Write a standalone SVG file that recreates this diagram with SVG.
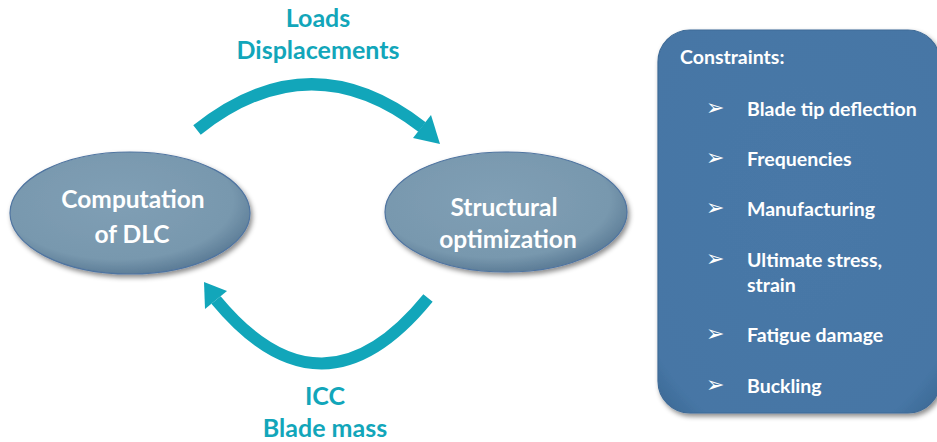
<svg xmlns="http://www.w3.org/2000/svg" width="937" height="442" viewBox="0 0 937 442">
<defs>
<radialGradient id="eg" cx="0.45" cy="0.4" r="0.6">
<stop offset="0" stop-color="#809FB5"/>
<stop offset="0.8" stop-color="#7898AE"/>
<stop offset="1" stop-color="#5E7E98"/>
</radialGradient>
<radialGradient id="bg" cx="0.5" cy="0.45" r="0.75">
<stop offset="0" stop-color="#4878A7"/>
<stop offset="0.85" stop-color="#4676A5"/>
<stop offset="1" stop-color="#3A6590"/>
</radialGradient>
<filter id="sh" x="-10%" y="-10%" width="125%" height="130%">
<feDropShadow dx="2" dy="3" stdDeviation="2.5" flood-color="#000" flood-opacity="0.45"/>
</filter>
</defs>
<style>
.node{fill:url(#eg);stroke:#4F74A0;stroke-width:1.2;filter:url(#sh)}
.nt{font-family:Lato,"Open Sans",sans-serif;font-weight:bold;font-size:24.5px;fill:#fff;text-anchor:middle}
.lbl{font-family:Lato,"Open Sans",sans-serif;font-weight:bold;font-size:25px;fill:#12A6BA;text-anchor:middle}
.arc{fill:none;stroke:#12A6BA;stroke-width:12}
.head{fill:#12A6BA}
.ct{font-family:Lato,"Open Sans",sans-serif;font-weight:bold;font-size:19.5px;fill:#fff}
.bul{font-family:"DejaVu Sans",sans-serif;font-size:22px;fill:#fff}
</style>
<rect width="937" height="442" fill="#fff"/>
<g id="connectors">
<path class="arc" d="M197,130 Q310,40 422,127"/>
<polygon class="head" points="440,144 413,138 431,115"/>
<path class="arc" d="M428,298 Q322,428 216,300"/>
<polygon class="head" points="204,282 227,291 205,309"/>
</g>
<g id="label-top">
<text class="lbl" x="318" y="27">Loads</text>
<text class="lbl" x="318" y="59">Displacements</text>
</g>
<g id="label-bottom">
<text class="lbl" x="325" y="405">ICC</text>
<text class="lbl" x="325" y="437">Blade mass</text>
</g>
<g id="node-dlc">
<ellipse class="node" cx="130" cy="213" rx="120" ry="61"/>
<text class="nt" x="133" y="208">Computation</text>
<text class="nt" x="132" y="243">of DLC</text>
</g>
<g id="node-opt">
<ellipse class="node" cx="506" cy="212" rx="121" ry="60"/>
<text class="nt" x="504" y="216">Structural</text>
<text class="nt" x="508" y="248">optimization</text>
</g>
<g id="node-constraints">
<rect x="658" y="30" width="282" height="383" rx="32" fill="url(#bg)" stroke="#3F6B97" stroke-width="1.2" filter="url(#sh)"/>
<text class="ct" x="680" y="64">Constraints:</text>
<text class="bul" x="706" y="115">➢</text><text class="ct" x="747" y="116">Blade tip deflection</text>
<text class="bul" x="706" y="165">➢</text><text class="ct" x="747" y="166">Frequencies</text>
<text class="bul" x="706" y="215">➢</text><text class="ct" x="747" y="216">Manufacturing</text>
<text class="bul" x="706" y="266">➢</text><text class="ct" x="747" y="267">Ultimate stress,</text>
<text class="ct" x="747" y="292">strain</text>
<text class="bul" x="706" y="341">➢</text><text class="ct" x="747" y="342">Fatigue damage</text>
<text class="bul" x="706" y="392">➢</text><text class="ct" x="747" y="393">Buckling</text>
</g>
</svg>
